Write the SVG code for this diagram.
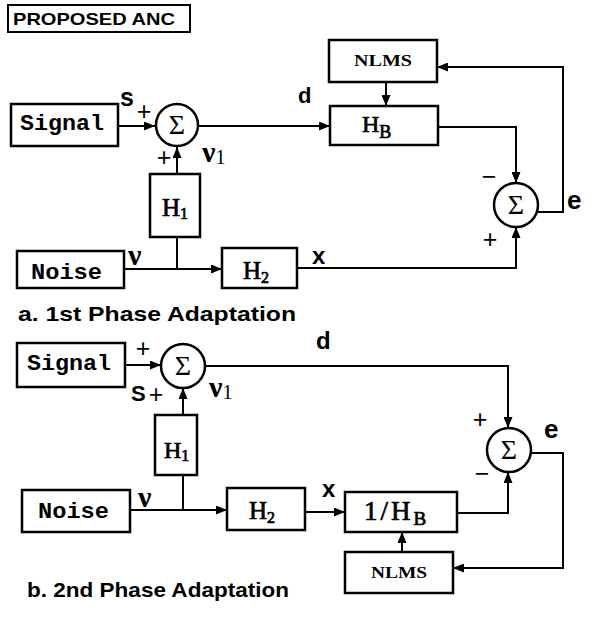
<svg xmlns="http://www.w3.org/2000/svg" width="592" height="619" viewBox="0 0 592 619">
<defs>
<marker id="ah" markerUnits="userSpaceOnUse" markerWidth="11" markerHeight="9" refX="11" refY="4.5" orient="auto">
<path d="M0,0 L11,4.5 L0,9 z" fill="#000"/>
</marker>
<style>
.box{fill:#fff;stroke:#000;stroke-width:2.5}
.sum{fill:#fff;stroke:#000;stroke-width:2.5}
.ln{fill:none;stroke:#000;stroke-width:2}
.arr{fill:none;stroke:#000;stroke-width:2;marker-end:url(#ah)}
.mono{font-family:"Liberation Mono","Courier New",monospace;font-weight:bold;fill:#000}
.hs{font-family:"Liberation Serif","Times New Roman",serif;fill:#000;stroke:#000;stroke-width:0.7}
.sig{font-family:"Liberation Serif","Times New Roman",serif;font-size:28px;text-anchor:middle;fill:#000}
.nlms{font-family:"Liberation Serif","Times New Roman",serif;font-weight:bold;font-size:16px;text-anchor:middle;fill:#000}
.lbl{font-family:"Liberation Sans",Arial,sans-serif;font-weight:bold;fill:#000}
.pm{font-family:"Liberation Sans",Arial,sans-serif;font-size:25px;text-anchor:middle;fill:#000}
.nu{font-family:"Liberation Serif","Times New Roman",serif;font-weight:bold;font-size:30px;fill:#000}
.cap{font-family:"Liberation Sans",Arial,sans-serif;font-weight:bold;font-size:21px;fill:#000}
</style>
</defs>

<g id="title">
<rect x="8" y="5" width="182" height="27" fill="#fff" stroke="#000" stroke-width="2"/>
<text x="13" y="25" font-family="Liberation Sans, Arial, sans-serif" font-weight="bold" font-size="17" textLength="162" lengthAdjust="spacingAndGlyphs">PROPOSED ANC</text>
</g>

<!-- ===== Part a ===== -->
<g id="connectors-a">
<line class="arr" x1="118" y1="126" x2="155" y2="126"/>
<line class="arr" x1="177" y1="174" x2="177" y2="147"/>
<polyline class="ln" points="177,237 177,269"/>
<line class="arr" x1="124" y1="269" x2="222" y2="269"/>
<line class="arr" x1="199" y1="126" x2="330" y2="126"/>
<line class="arr" x1="386" y1="82" x2="386" y2="106"/>
<polyline class="arr" points="438,127 516,127 516,183"/>
<polyline class="arr" points="297,268 516,268 516,227"/>
<polyline class="arr" points="537,212 563,212 563,67 437,67"/>
</g>

<g id="signal-a">
<rect class="box" x="11" y="104" width="107" height="42"/>
<text class="mono" x="20" y="130" font-size="22" textLength="84" lengthAdjust="spacingAndGlyphs">Signal</text>
</g>
<g id="sum1-a">
<circle class="sum" cx="177" cy="125" r="21"/>
<text class="sig" x="177" y="134">Σ</text>
</g>
<g id="h1-a">
<rect class="box" x="150" y="174" width="50" height="63"/>
<text class="hs" x="162" y="216" font-size="25">H<tspan font-size="16" dy="3">1</tspan></text>
</g>
<g id="noise-a">
<rect class="box" x="17" y="251" width="107" height="37"/>
<text class="mono" x="31" y="279" font-size="22" textLength="71" lengthAdjust="spacingAndGlyphs">Noise</text>
</g>
<g id="h2-a">
<rect class="box" x="222" y="248" width="75" height="40"/>
<text class="hs" x="243" y="279" font-size="25">H<tspan font-size="16" dy="4">2</tspan></text>
</g>
<g id="hb-a">
<rect class="box" x="330" y="106" width="108" height="39"/>
<text class="hs" x="362" y="132" font-size="24">H<tspan font-size="18" dy="6">B</tspan></text>
</g>
<g id="nlms-a">
<rect class="box" x="329" y="40" width="108" height="42"/>
<text class="nlms" x="383" y="66" textLength="58" lengthAdjust="spacingAndGlyphs">NLMS</text>
</g>
<g id="sum2-a">
<circle class="sum" cx="516" cy="205" r="22"/>
<text class="sig" x="516" y="214">Σ</text>
</g>
<g id="labels-a">
<text class="lbl" x="120" y="106" font-size="25">s</text>
<text class="pm" x="144" y="120">+</text>
<text class="pm" x="164" y="166">+</text>
<text class="nu" x="202" y="162">ν<tspan font-size="20" font-weight="normal" dy="2">1</tspan></text>
<text class="nu" x="128" y="265">ν</text>
<text class="lbl" x="298" y="103" font-size="22">d</text>
<text class="lbl" x="312" y="264" font-size="24">x</text>
<text class="pm" x="489" y="185">−</text>
<text class="pm" x="490" y="248">+</text>
<text class="lbl" x="567" y="209" font-size="26">e</text>
</g>
<text class="cap" x="18" y="321" textLength="278" lengthAdjust="spacingAndGlyphs">a.  1st Phase Adaptation</text>

<!-- ===== Part b ===== -->
<g id="connectors-b">
<line class="arr" x1="125" y1="365" x2="161" y2="365"/>
<line class="arr" x1="183" y1="415" x2="183" y2="388"/>
<polyline class="ln" points="183,475 183,510"/>
<line class="arr" x1="130" y1="510" x2="227" y2="510"/>
<polyline class="arr" points="205,366 508,366 508,428"/>
<line class="arr" x1="305" y1="512" x2="345" y2="512"/>
<polyline class="arr" points="457,513 508,513 508,472"/>
<line class="arr" x1="402" y1="552" x2="402" y2="532"/>
<polyline class="arr" points="531,453 563,453 563,568 453,568"/>
</g>

<g id="signal-b">
<rect class="box" x="17" y="343" width="108" height="44"/>
<text class="mono" x="27" y="370" font-size="22" textLength="84" lengthAdjust="spacingAndGlyphs">Signal</text>
</g>
<g id="sum1-b">
<circle class="sum" cx="183" cy="366" r="22"/>
<text class="sig" x="183" y="375">Σ</text>
</g>
<g id="h1-b">
<rect class="box" x="155" y="415" width="42" height="60"/>
<text class="hs" x="164" y="458" font-size="24">H<tspan font-size="16" dy="3">1</tspan></text>
</g>
<g id="noise-b">
<rect class="box" x="22" y="490" width="108" height="42"/>
<text class="mono" x="38" y="518" font-size="22" textLength="71" lengthAdjust="spacingAndGlyphs">Noise</text>
</g>
<g id="h2-b">
<rect class="box" x="227" y="488" width="78" height="42"/>
<text class="hs" x="249" y="519" font-size="25">H<tspan font-size="16" dy="4">2</tspan></text>
</g>
<g id="invhb-b">
<rect class="box" x="345" y="492" width="112" height="40"/>
<text class="hs" x="364" y="520" font-size="27" letter-spacing="3">1/H<tspan font-size="19" dy="5" letter-spacing="0">B</tspan></text>
</g>
<g id="nlms-b">
<rect class="box" x="345" y="552" width="108" height="41"/>
<text class="nlms" x="399" y="578" textLength="56" lengthAdjust="spacingAndGlyphs">NLMS</text>
</g>
<g id="sum2-b">
<circle class="sum" cx="509" cy="450" r="22"/>
<text class="sig" x="509" y="459">Σ</text>
</g>
<g id="labels-b">
<text class="pm" x="143" y="357">+</text>
<text class="lbl" x="131" y="401" font-size="22">S</text>
<text class="pm" x="156" y="403">+</text>
<text class="nu" x="209" y="397">ν<tspan font-size="20" font-weight="normal" dy="2">1</tspan></text>
<text class="nu" x="138" y="507">ν</text>
<text class="lbl" x="316" y="349" font-size="24">d</text>
<text class="lbl" x="322" y="497" font-size="24">x</text>
<text class="pm" x="480" y="428">+</text>
<text class="pm" x="482" y="482">−</text>
<text class="lbl" x="544" y="438" font-size="26">e</text>
</g>
<text class="cap" x="27" y="597" textLength="262" lengthAdjust="spacingAndGlyphs">b.  2nd Phase Adaptation</text>
</svg>
